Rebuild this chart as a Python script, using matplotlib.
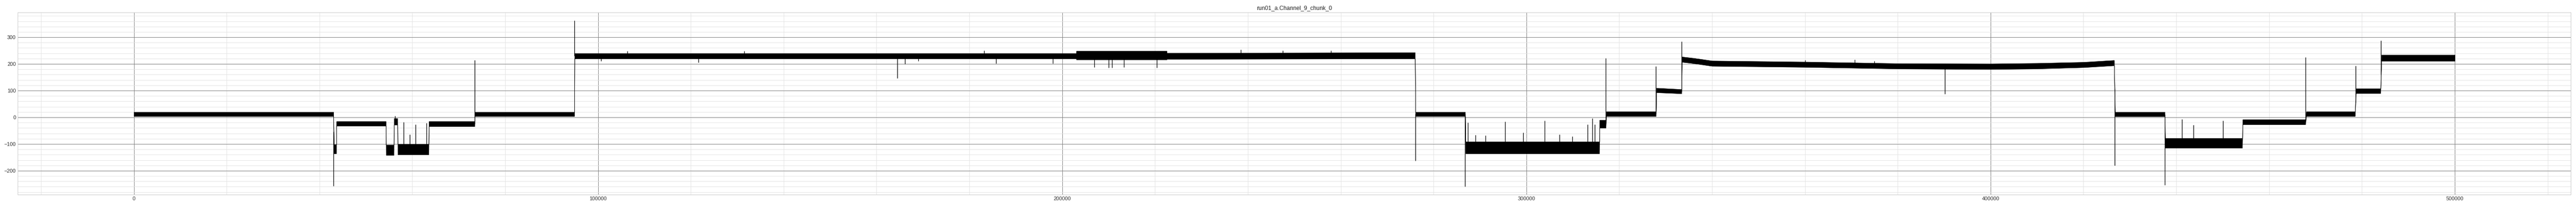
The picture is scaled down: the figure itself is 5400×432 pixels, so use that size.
# plot.py - channel trace, drawn as envelope band + spikes
import numpy as np
import matplotlib
matplotlib.use("Agg")
import matplotlib.pyplot as plt
from matplotlib.ticker import MultipleLocator

title = "run01_a.Channel_9_chunk_0"

# envelope of the noisy trace (sample index, lower edge, upper edge)
env_x = [0, 43000,
         43100, 43600,
         43650, 54300,
         54350, 56000,
         56050, 56800,
         56850, 63500,
         63550, 73400,
         73450, 94900,
         94950, 203000,
         203050, 222500,
         222550, 276000,
         276100, 286800,
         286900, 315700,
         315750, 317100,
         317200, 327900,
         328000, 333400,
         333500, 336000, 340000, 350000, 360000, 380000, 400000, 410000, 420000, 426600,
         426800, 437500,
         437600, 454200,
         454300, 467800,
         468000, 478500,
         478700, 484000,
         484200, 499999]
env_lo = [4, 4,
          -136, -136,
          -32, -32,
          -142, -142,
          -28, -28,
          -140, -140,
          -34, -34,
          4, 4,
          220, 220,
          216, 216,
          218, 220,
          4, 4,
          -136, -136,
          -40, -40,
          4, 4,
          93, 89,
          207, 202, 192, 190, 188, 182, 180, 182, 187, 194,
          3, 3,
          -115, -115,
          -27, -27,
          4, 4,
          90, 90,
          211, 211]
env_hi = [20, 20,
          -102, -102,
          -15, -15,
          -103, -103,
          -4, -4,
          -100, -100,
          -15, -15,
          20, 20,
          240, 240,
          249, 249,
          241, 243,
          20, 20,
          -91, -91,
          -10, -10,
          22, 22,
          110, 105,
          227, 222, 212, 210, 208, 202, 201, 203, 207, 214,
          20, 20,
          -78, -78,
          -8, -8,
          22, 22,
          108, 108,
          234, 234]

# isolated spikes (sample index, tip value)
spike_x = [43050, 56300, 58100, 59400, 60700, 63000, 73400, 94950,
           100700, 106350, 121600, 131500, 164485, 166100, 169000, 183150, 185700, 198000,
           206900, 210000, 210700, 213300, 220400, 238500, 247500, 257900,
           276100, 286800, 287400, 289000, 291200, 295400, 299300, 303900, 307100, 309900,
           313200, 314200, 314700, 317100, 327900, 333400,
           360000, 370700, 374900, 390100, 426700, 437500,
           441200, 443700, 450100, 467800, 478600, 484100]
spike_y = [-257, 5, -18, -64, -27, -22, 215, 362,
           211, 248, 206, 248, 146, 200, 211, 250, 202, 202,
           188, 185, 185, 188, 185, 253, 250, 250,
           -162, -259, -20, -67, -68, -17, -57, -13, -65, -72,
           -26, -3, -26, 221, 192, 284,
           215, 216, 210, 87, -180, -254,
           -8, -28, -12, 225, 193, 287]

plt.rcParams["font.family"] = ["Liberation Sans", "DejaVu Sans"]

fig, ax = plt.subplots(figsize=(75, 6), dpi=72)
fig.subplots_adjust(left=0.0069, right=0.998, top=0.9398, bottom=0.0549)

env_x = np.array(env_x)
mid = (np.array(env_lo) + np.array(env_hi)) / 2
base = np.interp(spike_x, env_x, mid)

ax.fill_between(env_x, env_lo, env_hi, facecolor="black", edgecolor="black", linewidth=0.6)
ax.vlines(spike_x, base, spike_y, color="black", linewidth=1.3)

ax.xaxis.set_major_locator(MultipleLocator(100000))
ax.xaxis.set_minor_locator(MultipleLocator(20000))
ax.yaxis.set_major_locator(MultipleLocator(100))
ax.yaxis.set_minor_locator(MultipleLocator(20))
ax.ticklabel_format(style="plain", useOffset=False)

ax.set_axisbelow(True)
ax.grid(which="major", color="#808080", linewidth=1.0)
ax.grid(which="minor", color="#e2e2e2", linewidth=0.9)
ax.tick_params(which="both", length=0, labelsize=11, labelcolor="#333333", pad=4)
for s in ax.spines.values():
    s.set_color("#cccccc")
    s.set_linewidth(1.0)

ax.set_title(title, fontsize=12, color="#262626")

fig.savefig("out.png", dpi=72)
